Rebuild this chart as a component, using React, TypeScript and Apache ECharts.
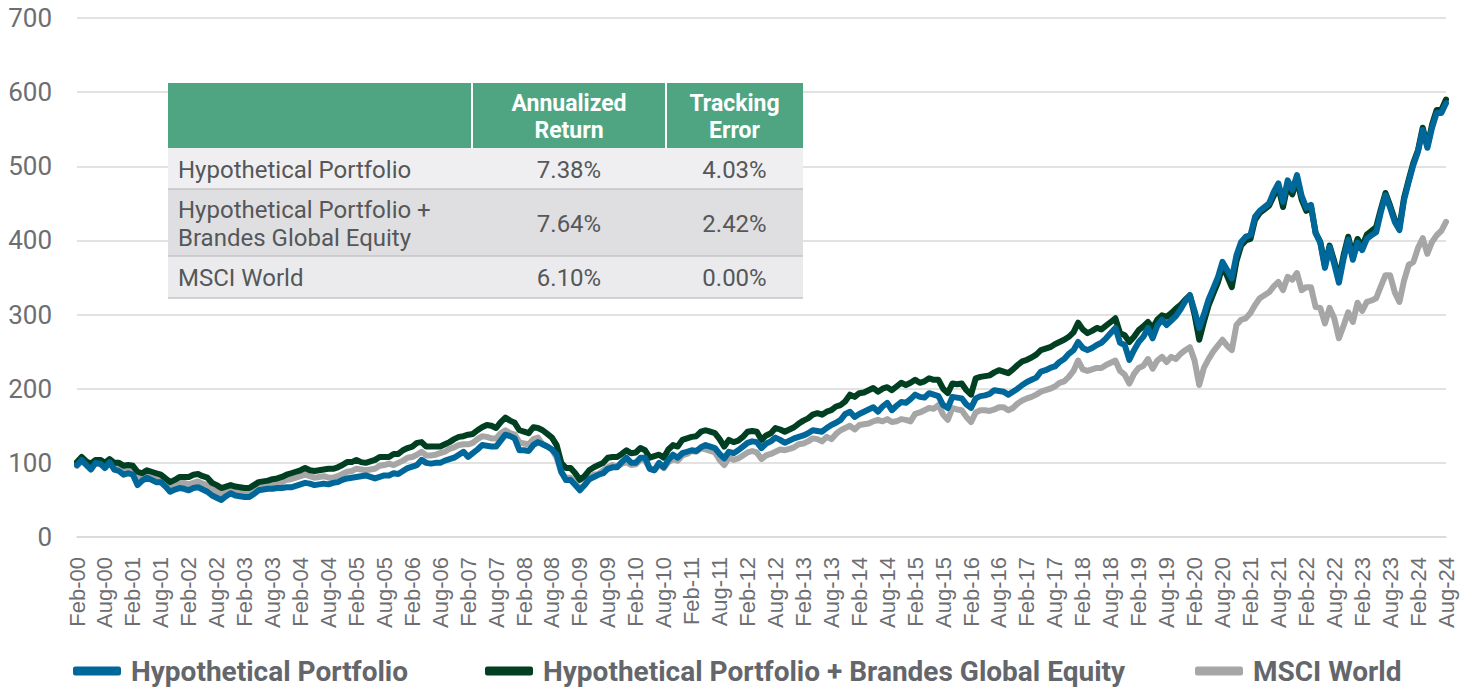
import React, { useEffect, useRef } from "react";
import * as echarts from "echarts";

const MONTHS = ["Jan", "Feb", "Mar", "Apr", "May", "Jun", "Jul", "Aug", "Sep", "Oct", "Nov", "Dec"];

// Hypothetical Portfolio (monthly, Feb-00 .. Aug-24)
const hp: number[] = [
  97, 104, 97, 91, 100, 99, 93, 101, 91, 89, 84, 86,
  84, 70, 76, 80, 77, 74, 74, 68, 61, 64, 66, 65,
  63, 66, 67, 64, 61, 56, 53, 50, 55, 59, 56, 55,
  54, 54, 58, 63, 64, 65, 65, 66, 66, 67, 67, 69,
  71, 73, 72, 70, 71, 72, 71, 73, 74, 77, 79, 80,
  81, 82, 83, 81, 79, 81, 83, 83, 86, 85, 89, 93,
  95, 97, 104, 100, 99, 100, 100, 103, 105, 107, 111, 115,
  108, 113, 118, 124, 123, 122, 122, 130, 138, 136, 133, 117,
  117, 116, 124, 128, 125, 122, 118, 111, 88, 77, 77, 70,
  63, 70, 78, 81, 84, 86, 92, 94, 94, 101, 107, 100,
  100, 107, 107, 92, 90, 100, 94, 104, 111, 107, 113, 115,
  117, 116, 121, 124, 122, 120, 112, 106, 115, 113, 117, 122,
  127, 129, 128, 120, 126, 129, 134, 131, 127, 130, 133, 135,
  137, 140, 144, 143, 142, 147, 151, 154, 158, 166, 169, 162,
  166, 169, 172, 175, 169, 176, 181, 171, 177, 182, 181, 186,
  192, 189, 188, 194, 192, 190, 178, 174, 189, 188, 187, 179,
  174, 187, 190, 191, 193, 198, 197, 196, 192, 196, 200, 205,
  209, 212, 215, 223, 225, 228, 230, 236, 240, 247, 252, 263,
  255, 252, 255, 259, 262, 268, 275, 282, 262, 259, 239, 252,
  263, 270, 282, 268, 285, 293, 286, 292, 298, 307, 318, 326,
  305, 282, 300, 320, 335, 350, 371, 360, 349, 380, 398, 405,
  407, 432, 440, 445, 450, 465, 477, 452, 481, 468, 488, 460,
  444, 448, 410, 397, 363, 391, 368, 343, 375, 401, 374, 397,
  387, 402, 407, 411, 438, 461, 444, 425, 414, 455, 479, 502,
  520, 549, 525, 552, 572, 572, 585,
];

// Hypothetical Portfolio + Brandes Global Equity
const hpb: number[] = [
  101, 108, 102, 99, 104, 104, 100, 105, 100, 100, 96, 97,
  96, 88, 86, 90, 88, 86, 84, 79, 74, 77, 81, 81,
  81, 84, 85, 82, 80, 73, 70, 66, 68, 70, 68, 67,
  66, 66, 70, 74, 75, 76, 78, 79, 81, 84, 86, 88,
  90, 93, 90, 89, 90, 91, 92, 92, 94, 97, 101, 101,
  104, 101, 100, 102, 104, 108, 108, 108, 112, 112, 117, 120,
  122, 127, 128, 122, 122, 122, 122, 125, 128, 132, 135, 136,
  138, 139, 144, 148, 151, 150, 147, 155, 161, 157, 154, 144,
  142, 140, 148, 147, 144, 139, 134, 124, 100, 93, 93, 86,
  77, 82, 90, 94, 97, 100, 107, 108, 108, 112, 117, 113,
  114, 120, 117, 107, 109, 111, 107, 118, 124, 122, 131, 133,
  135, 136, 142, 144, 142, 140, 132, 122, 131, 128, 130, 135,
  142, 143, 142, 131, 137, 140, 147, 145, 142, 145, 148, 153,
  157, 160, 165, 167, 165, 169, 171, 176, 178, 183, 192, 189,
  194, 195, 198, 201, 196, 200, 202, 198, 203, 208, 205, 208,
  212, 208, 210, 214, 212, 212, 200, 194, 207, 206, 207, 198,
  192, 214, 216, 217, 218, 222, 225, 223, 221, 226, 232, 237,
  239, 242, 246, 252, 254, 256, 260, 263, 266, 270, 276, 289,
  280, 275, 278, 282, 280, 285, 290, 295, 275, 272, 263, 270,
  279, 284, 290, 282, 293, 299, 297, 302, 308, 313, 320, 326,
  300, 266, 290, 312, 328, 343, 365, 352, 337, 372, 393, 400,
  402, 428, 437, 442, 447, 460, 472, 445, 475, 462, 482, 455,
  440, 446, 410, 398, 366, 393, 372, 348, 380, 405, 380, 402,
  392, 408, 413, 418, 442, 464, 447, 428, 418, 458, 482, 505,
  522, 552, 527, 556, 576, 576, 590,
];

// MSCI World
const msci: number[] = [
  96, 102, 98, 95, 99, 98, 96, 102, 96, 94, 89, 91,
  89, 79, 80, 85, 82, 80, 79, 74, 67, 70, 73, 73,
  71, 73, 75, 72, 70, 64, 61, 58, 61, 64, 62, 60,
  59, 58, 63, 67, 69, 70, 71, 73, 74, 77, 78, 80,
  82, 84, 82, 80, 81, 82, 80, 80, 82, 85, 88, 89,
  92, 91, 90, 91, 92, 96, 97, 99, 97, 100, 103, 107,
  108, 111, 115, 110, 110, 111, 113, 115, 119, 121, 124, 125,
  125, 127, 132, 136, 135, 133, 133, 140, 144, 140, 138, 128,
  126, 125, 132, 134, 125, 122, 118, 107, 87, 80, 80, 73,
  65, 70, 78, 84, 85, 90, 94, 97, 95, 99, 101, 97,
  98, 104, 103, 93, 90, 97, 93, 101, 105, 103, 110, 112,
  116, 115, 120, 118, 116, 114, 104, 97, 107, 104, 106, 110,
  114, 116, 114, 105, 110, 112, 115, 118, 117, 119, 121, 125,
  126, 129, 133, 132, 129, 135, 132, 139, 144, 147, 150, 145,
  151, 152, 153, 156, 158, 156, 159, 155, 156, 159, 158, 156,
  166, 168, 171, 174, 173, 178, 165, 158, 174, 172, 171, 162,
  155, 168, 171, 171, 170, 172, 175, 175, 171, 174, 180, 184,
  187, 189, 192, 196, 198, 200, 203, 208, 210, 216, 224, 238,
  226, 224, 226, 228, 228, 232, 235, 238, 224, 219, 207, 220,
  228, 231, 240, 227, 238, 243, 236, 243, 240, 247, 252, 256,
  238, 205, 228, 240, 250, 258, 266, 258, 252, 286, 293, 295,
  302, 313, 322, 326, 330, 338, 344, 333, 351, 347, 356, 333,
  337, 337, 310, 309, 288, 309, 295, 268, 285, 303, 290, 316,
  305, 317, 319, 322, 338, 353, 353, 330, 317, 346, 367, 371,
  390, 403, 382, 398, 407, 413, 425,
];

const SERIES_NAMES = [
  "Hypothetical Portfolio",
  "Hypothetical Portfolio + Brandes Global Equity",
  "MSCI World",
];
const COLORS = ["#00679a", "#003f22", "#a6a6a6"];

const TABLE_HEADERS = ["Annualized\nReturn", "Tracking\nError"];
const TABLE_ROWS = [
  "Hypothetical Portfolio",
  "Hypothetical Portfolio +\nBrandes Global Equity",
  "MSCI World",
];
const ANNUALIZED_RETURN = ["7.38%", "7.64%", "6.10%"];
const TRACKING_ERROR = ["4.03%", "2.42%", "0.00%"];

function buildCategories(n: number): string[] {
  const out: string[] = [];
  for (let i = 0; i < n; i++) {
    const m = (1 + i) % 12;
    const y = 2000 + Math.floor((1 + i) / 12);
    out.push(`${MONTHS[m]}-${String(y % 100).padStart(2, "0")}`);
  }
  return out;
}

export default function App() {
  const ref = useRef<HTMLDivElement>(null);

  useEffect(() => {
    if (!ref.current) return;
    const chart = echarts.init(ref.current, undefined, { renderer: "svg" });
    const categories = buildCategories(hp.length);

    // table geometry
    const tx = 168, tw = 635;
    const c1 = 472, c2 = 666;
    const rowsY = [83, 148, 189, 256, 298];
    const rowFills = ["#efeff1", "#dfdfe1", "#ebebed"];
    const textColor = "#555759";
    const font = "Roboto";

    const graphics: any[] = [];
    graphics.push({
      type: "rect",
      z: 100,
      shape: { x: tx, y: rowsY[0], width: tw, height: rowsY[1] - rowsY[0] },
      style: { fill: "#4fa582" },
    });
    for (let r = 0; r < 3; r++) {
      graphics.push({
        type: "rect",
        z: 100,
        shape: { x: tx, y: rowsY[r + 1], width: tw, height: rowsY[r + 2] - rowsY[r + 1] },
        style: { fill: rowFills[r] },
      });
    }
    for (let r = 2; r < 5; r++) {
      graphics.push({
        type: "line",
        z: 101,
        shape: { x1: tx, y1: rowsY[r], x2: tx + tw, y2: rowsY[r] },
        style: { stroke: "#c4c4c6", lineWidth: 1.5 },
      });
    }
    [c1, c2].forEach((cx) => {
      graphics.push({
        type: "line",
        z: 101,
        shape: { x1: cx, y1: rowsY[0], x2: cx, y2: rowsY[1] },
        style: { stroke: "#ffffff", lineWidth: 2 },
      });
    });
    const colCenters = [(c1 + c2) / 2, (c2 + tx + tw) / 2];
    TABLE_HEADERS.forEach((h, k) => {
      graphics.push({
        type: "text",
        z: 102,
        style: {
          text: h,
          x: colCenters[k],
          y: (rowsY[0] + rowsY[1]) / 2 + 1,
          fill: "#ffffff",
          fontSize: 23,
          fontWeight: "bold",
          fontFamily: font,
          lineHeight: 27,
          textAlign: "center",
          textVerticalAlign: "middle",
        },
      });
    });
    TABLE_ROWS.forEach((label, r) => {
      const cy = (rowsY[r + 1] + rowsY[r + 2]) / 2 + 1;
      graphics.push({
        type: "text",
        z: 102,
        style: {
          text: label,
          x: tx + 10,
          y: cy,
          fill: textColor,
          fontSize: 24,
          fontFamily: font,
          lineHeight: 28,
          textAlign: "left",
          textVerticalAlign: "middle",
        },
      });
      [ANNUALIZED_RETURN[r], TRACKING_ERROR[r]].forEach((v, k) => {
        graphics.push({
          type: "text",
          z: 102,
          style: {
            text: v,
            x: colCenters[k],
            y: cy,
            fill: textColor,
            fontSize: 24,
            fontFamily: font,
            textAlign: "center",
            textVerticalAlign: "middle",
          },
        });
      });
    });

    const legendBase = {
      top: 657,
      padding: 0,
      icon: "roundRect",
      itemWidth: 48,
      itemHeight: 9,
      selectedMode: false,
      textStyle: {
        fontSize: 28,
        lineHeight: 28,
        fontWeight: "bold",
        color: "#63666a",
        fontFamily: font,
        padding: [0, 0, 0, 5],
      },
    };

    const seriesData = [hp, hpb, msci];
    const order = [2, 1, 0];

    chart.setOption({
      animation: false,
      backgroundColor: "#ffffff",
      grid: { left: 77, right: 20, top: 18, bottom: 151, containLabel: false },
      legend: [
        { ...legendBase, left: 73, data: [SERIES_NAMES[0]] },
        { ...legendBase, left: 485, data: [SERIES_NAMES[1]] },
        { ...legendBase, left: 1195, data: [SERIES_NAMES[2]] },
      ],
      xAxis: {
        type: "category",
        boundaryGap: false,
        data: categories,
        axisLine: { show: true, lineStyle: { color: "#d9d9d9", width: 1.5 } },
        axisTick: { show: false },
        axisLabel: {
          rotate: 90,
          interval: 5,
          fontSize: 22,
          color: "#6d6e71",
          fontFamily: "Liberation Sans",
          margin: 20,
        },
        splitLine: { show: false },
      },
      yAxis: {
        type: "value",
        min: 0,
        max: 700,
        interval: 100,
        axisLine: { show: false },
        axisTick: { show: false },
        axisLabel: { fontSize: 26, color: "#6d6e71", fontFamily: font, margin: 25 },
        splitLine: { lineStyle: { color: "#d9d9d9", width: 1.5 } },
      },
      series: order.map((k) => ({
        name: SERIES_NAMES[k],
        type: "line",
        data: seriesData[k],
        showSymbol: false,
        symbol: "none",
        color: COLORS[k],
        lineStyle: { width: 6, color: COLORS[k], cap: "round", join: "round" },
      })),
      graphic: { elements: graphics },
    });

    return () => chart.dispose();
  }, []);

  return (
    <div
      ref={ref}
      style={{ position: "fixed", left: 0, top: 0, width: 1466, height: 688, background: "#fff" }}
    />
  );
}
